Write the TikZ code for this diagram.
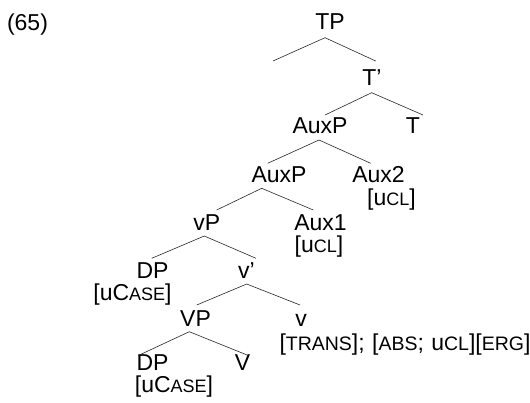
\documentclass[tikz,border=0pt]{standalone}
\usepackage{fontspec}
\setmainfont{Liberation Sans}
\newcommand\smc[1]{{\fontsize{18}{18}\selectfont #1}}
\newcommand\smcb[1]{{\fontsize{19.5}{19.5}\selectfont #1}}
\begin{document}
\begin{tikzpicture}[x=1pt,y=-1pt,
  lab/.style={anchor=base,inner sep=0pt,font=\fontsize{23}{23}\selectfont},
  branch/.style={line width=0.6pt,draw=black!85}]
\useasboundingbox (0,0) rectangle (530,402);
% labels
\node[lab] (ex) at (27.5,30) {(65)};
\node[lab] (TP) at (330,29.5) {TP};
\node[lab] (Tbar) at (372,85.5) {T'};
\node[lab] (AuxPa) at (320,133) {AuxP};
\node[lab] (T) at (413,133) {T};
\node[lab] (AuxPb) at (279,182.5) {AuxP};
\node[lab] (Aux2) at (378.5,182.5) {Aux2};
\node[lab] (cl2) at (391.5,205) {[u\smc{CL}]};
\node[lab] (vP) at (206.7,230) {vP};
\node[lab] (Aux1) at (320.5,230) {Aux1};
\node[lab] (cl1) at (319,252) {[u\smc{CL}]};
\node[lab] (DPa) at (152.5,278.3) {DP};
\node[lab] (casea) at (132.5,300) {[uC\smc{ASE}]};
\node[lab] (vbar) at (246.5,278.3) {v'};
\node[lab] (VP) at (195.5,326.7) {VP};
\node[lab] (v) at (301,326.7) {v};
\node[lab] (feat) at (405,350.7) {[\smcb{TRANS}];\hspace{1pt} [\smcb{ABS};\hspace{1pt} u\smcb{CL}][\smcb{ERG}]};
\node[lab] (DPb) at (152.5,370) {DP};
\node[lab] (V) at (242.5,370) {V};
\node[lab] (caseb) at (174,392) {[uC\smc{ASE}]};
% branch points
\coordinate (a1) at (325,37.7);   \coordinate (l1) at (273,61);     \coordinate (r1) at (375.7,61);
\coordinate (a2) at (371.7,92.7); \coordinate (l2) at (325,115);    \coordinate (r2) at (423,115);
\coordinate (a3) at (319,140);    \coordinate (l3) at (267.7,163.3); \coordinate (r3) at (370.7,163.3);
\coordinate (a4) at (261.7,188.3); \coordinate (l4) at (216.7,210); \coordinate (r4) at (313.3,210);
\coordinate (a5) at (204.3,236);  \coordinate (l5) at (151.7,258.3); \coordinate (r5) at (256,258.3);
\coordinate (a6) at (246.7,284);  \coordinate (l6) at (196.7,305);  \coordinate (r6) at (300,305);
\coordinate (a7) at (189.3,331.7); \coordinate (l7) at (138.3,355.5); \coordinate (r7) at (248.3,355.5);
\foreach \i in {1,...,7}{\draw[branch] (l\i) -- (a\i) -- (r\i);}
\end{tikzpicture}
\end{document}
